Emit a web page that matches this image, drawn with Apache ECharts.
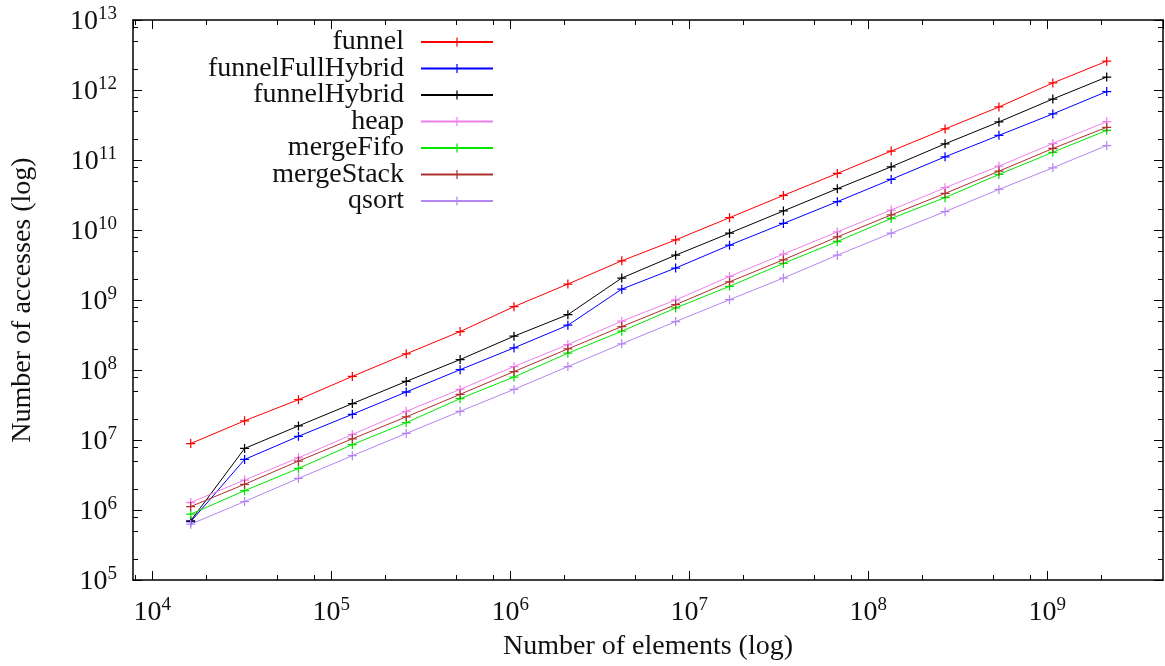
<!DOCTYPE html>
<html><head><meta charset="utf-8">
<script src="https://cdn.jsdelivr.net/npm/echarts@6/dist/echarts.min.js"></script>
<style>html,body{margin:0;padding:0;background:#fff}#c{width:1165px;height:666px}</style>
</head><body><div id="c"></div>
<script>
// Number of elements (x values, 2^14 .. 2^31)
const sizes = [16384, 32768, 65536, 131072, 262144, 524288, 1048576, 2097152, 4194304,
  8388608, 16777216, 33554432, 67108864, 134217728, 268435456, 536870912, 1073741824, 2147483648];

const funnel = [8.9e6, 1.88e7, 3.77e7, 8.1e7, 1.70e8, 3.54e8, 8.03e8, 1.69e9, 3.63e9,
  7.22e9, 1.5e10, 3.12e10, 6.43e10, 1.34e11, 2.78e11, 5.72e11, 1.26e12, 2.58e12];
const funnelFullHybrid = [6.8e5, 5.27e6, 1.13e7, 2.33e7, 4.85e7, 1.01e8, 2.07e8, 4.36e8, 1.43e9,
  2.86e9, 6.07e9, 1.24e10, 2.54e10, 5.28e10, 1.11e11, 2.25e11, 4.55e11, 9.5e11];
const funnelHybrid = [7.0e5, 7.57e6, 1.59e7, 3.31e7, 6.87e7, 1.41e8, 3.04e8, 6.18e8, 2.06e9,
  4.37e9, 9.0e9, 1.87e10, 3.89e10, 8.0e10, 1.7e11, 3.5e11, 7.43e11, 1.53e12];
const heap = [1.28e6, 2.68e6, 5.57e6, 1.2e7, 2.57e7, 5.28e7, 1.12e8, 2.31e8, 4.98e8,
  1.0e9, 2.17e9, 4.52e9, 9.4e9, 1.93e10, 4.02e10, 8.17e10, 1.72e11, 3.53e11];
const mergeFifo = [8.7e5, 1.89e6, 3.93e6, 8.6e6, 1.77e7, 3.9e7, 7.94e7, 1.74e8, 3.58e8,
  7.69e8, 1.57e9, 3.33e9, 6.85e9, 1.46e10, 2.9e10, 6.22e10, 1.29e11, 2.65e11];
const mergeStack = [1.12e6, 2.33e6, 5.0e6, 1.04e7, 2.14e7, 4.49e7, 9.5e7, 2.0e8, 4.17e8,
  8.57e8, 1.82e9, 3.75e9, 7.96e9, 1.64e10, 3.33e10, 6.93e10, 1.46e11, 2.93e11];
const qsort = [6.27e5, 1.32e6, 2.83e6, 5.96e6, 1.24e7, 2.57e7, 5.28e7, 1.12e8, 2.37e8,
  4.91e8, 1.01e9, 2.06e9, 4.37e9, 9.0e9, 1.83e10, 3.8e10, 7.74e10, 1.61e11];

const seriesNames = ['funnel', 'funnelFullHybrid', 'funnelHybrid', 'heap', 'mergeFifo', 'mergeStack', 'qsort'];
const seriesValues = [funnel, funnelFullHybrid, funnelHybrid, heap, mergeFifo, mergeStack, qsort];
const seriesColors = ['#ff0000', '#0000ff', '#000000', '#ee80ee', '#00e800', '#b03030', '#b585f2'];

// Axis ranges and minor-tick multipliers
const X_MIN = 7800, X_MAX = 4.43e9, Y_MIN = 1e5, Y_MAX = 1e13;
const xDecades = [3, 4, 5, 6, 7, 8, 9];
const yDecades = [5, 6, 7, 8, 9, 10, 11, 12];
const minorMult = [2, 5, 8];

const xMinor = [], yMinor = [];
xDecades.forEach(e => minorMult.forEach(m => { const v = m * Math.pow(10, e); if (v > X_MIN && v < X_MAX) xMinor.push(v); }));
yDecades.forEach(e => minorMult.forEach(m => { const v = m * Math.pow(10, e); if (v > Y_MIN && v < Y_MAX) yMinor.push(v); }));

const FONT = '"Liberation Serif", "DejaVu Serif", serif';
const CROSS = 'path://M4.3,0H5.7V4.3H10V5.7H5.7V10H4.3V5.7H0V4.3H4.3Z';

function powLabel(v) {
  const l = Math.log10(v);
  const n = Math.round(l);
  if (Math.abs(l - n) > 1e-6) return '';
  return '{b|10}{s|' + n + '}';
}
const labelRich = {
  b: { fontFamily: FONT, fontSize: 28, color: '#111', verticalAlign: 'bottom', lineHeight: 31 },
  s: { fontFamily: FONT, fontSize: 19, color: '#111', verticalAlign: 'top', lineHeight: 19 }
};
const tickStyle = { show: true, inside: true, length: 9, lineStyle: { color: '#000', width: 1 } };
const lineStyleAxis = { show: true, lineStyle: { color: '#000', width: 1.5 } };

const chart = echarts.init(document.getElementById('c'), null, { renderer: 'canvas' });

const series = seriesNames.map((name, i) => ({
  name, type: 'line',
  data: sizes.map((x, j) => [x, seriesValues[i][j]]),
  symbol: CROSS, symbolSize: 9, showSymbol: true,
  lineStyle: { width: 1, color: seriesColors[i] },
  itemStyle: { color: seriesColors[i] },
  emphasis: { disabled: true },
  animation: false
}));

series.push({
  type: 'custom', silent: true, animation: false, xAxisIndex: 0, yAxisIndex: 0,
  data: xMinor.map(v => [v, Y_MIN]),
  renderItem: function (params, api) {
    const v = api.value(0);
    const b = api.coord([v, Y_MIN]), t = api.coord([v, Y_MAX]);
    const x = Math.round(b[0]) + 0.5;
    return { type: 'group', children: [
      { type: 'line', shape: { x1: x, y1: b[1], x2: x, y2: b[1] - 5 }, style: { stroke: '#000', lineWidth: 1 } },
      { type: 'line', shape: { x1: x, y1: t[1], x2: x, y2: t[1] + 5 }, style: { stroke: '#000', lineWidth: 1 } }
    ] };
  }
});
series.push({
  type: 'custom', silent: true, animation: false, xAxisIndex: 0, yAxisIndex: 0,
  data: yMinor.map(v => [X_MIN, v]),
  renderItem: function (params, api) {
    const v = api.value(1);
    const l = api.coord([X_MIN, v]), r = api.coord([X_MAX, v]);
    const y = Math.round(l[1]) + 0.5;
    return { type: 'group', children: [
      { type: 'line', shape: { x1: l[0], y1: y, x2: l[0] + 5, y2: y }, style: { stroke: '#000', lineWidth: 1 } },
      { type: 'line', shape: { x1: r[0], y1: y, x2: r[0] - 5, y2: y }, style: { stroke: '#000', lineWidth: 1 } }
    ] };
  }
});

chart.setOption({
  animation: false,
  backgroundColor: '#fff',
  grid: { left: 133, right: 2, top: 20, bottom: 84, containLabel: false },
  legend: {
    data: seriesNames, orient: 'vertical', align: 'right', right: 671, top: 28, padding: 0,
    itemGap: -1.5, itemWidth: 72, itemHeight: 11, selectedMode: false,
    textStyle: { fontFamily: FONT, fontSize: 28, color: '#111', padding: [0, 12, 0, 0] }
  },
  xAxis: [{
    type: 'log', min: X_MIN, max: X_MAX, position: 'bottom',
    name: 'Number of elements (log)', nameLocation: 'middle', nameGap: 53,
    nameTextStyle: { fontFamily: FONT, fontSize: 28, color: '#111' },
    axisLine: lineStyleAxis, axisTick: tickStyle, splitLine: { show: false }, minorTick: { show: false },
    axisLabel: { formatter: powLabel, rich: labelRich, margin: 16, showMinLabel: false, showMaxLabel: false }
  }, {
    type: 'log', min: X_MIN, max: X_MAX, position: 'top',
    axisLine: lineStyleAxis, axisTick: tickStyle, splitLine: { show: false }, axisLabel: { show: false }
  }],
  yAxis: [{
    type: 'log', min: Y_MIN, max: Y_MAX, position: 'left',
    name: 'Number of accesses (log)', nameLocation: 'middle', nameGap: 96, nameRotate: 90,
    nameTextStyle: { fontFamily: FONT, fontSize: 28, color: '#111' },
    axisLine: lineStyleAxis, axisTick: tickStyle, splitLine: { show: false },
    axisLabel: { formatter: powLabel, rich: labelRich, margin: 16 }
  }, {
    type: 'log', min: Y_MIN, max: Y_MAX, position: 'right',
    axisLine: lineStyleAxis, axisTick: tickStyle, splitLine: { show: false }, axisLabel: { show: false }
  }],
  series
});
</script></body></html>
